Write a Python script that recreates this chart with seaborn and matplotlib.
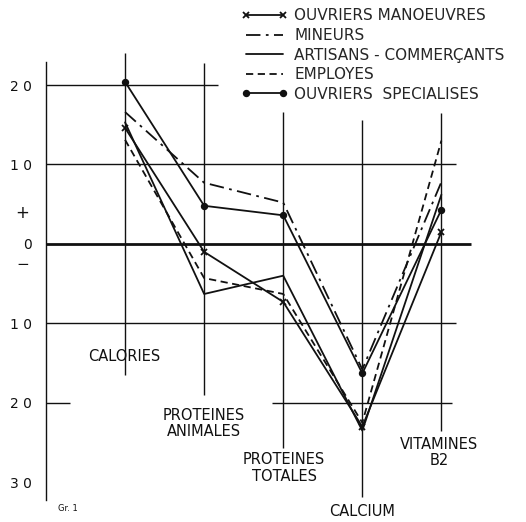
import numpy as np
import pandas as pd
import seaborn as sns
import matplotlib
matplotlib.use('Agg')
import matplotlib.pyplot as plt

sns.set_style('white')
plt.rcParams['font.family'] = ['DejaVu Sans']

# données (écart en %)
categories = ['CALORIES', 'PROTEINES\nANIMALES', 'PROTEINES\nTOTALES', 'CALCIUM', 'VITAMINES\nB2']
manoeuvres = [14.6, -1.0, -7.3, -23.0, 1.5]
mineurs = [16.6, 7.7, 5.2, -15.8, 7.8]
artisans = [15.3, -6.3, -4.0, -23.5, 6.2]
employes = [13.1, -4.3, -6.3, -22.5, 13.0]
specialises = [20.4, 4.8, 3.6, -16.3, 4.3]

y_ticks = [20, 10, 0, -10, -20, -30]
y_labels = ['2 0', '1 0', '0', '1 0', '2 0', '3 0']

ink = '#111111'
pos = np.arange(len(categories))

fig = plt.figure(figsize=(5.26, 5.22), dpi=100)
ax = fig.add_axes([46 / 526, 0, 480 / 526, 1])
ax.set_xlim(-1, 5.07)
ax.set_ylim(-35, 30.7)

# quadrillage partiel, comme sur l'original
ax.hlines(20, -1, 1.18, color=ink, lw=1)
ax.hlines(10, -1, 4.18, color=ink, lw=1)
ax.hlines(0, -1, 4.37, color=ink, lw=2)
ax.hlines(-10, -1, 4.18, color=ink, lw=1)
ax.hlines(-20, -1, -0.7, color=ink, lw=1)
ax.hlines(-20, 1.86, 4.14, color=ink, lw=1)
v_top = [24.0, 22.8, 16.6, 15.6, 16.5]
v_bot = [-16.5, -19.0, -25.7, -31.8, -23.6]
for i in range(len(categories)):
    ax.vlines(pos[i], v_bot[i], v_top[i], color=ink, lw=1)

series = [
    ('OUVRIERS MANOEUVRES', manoeuvres, '-', 'x', 4.5),
    ('MINEURS', mineurs, (0, (8, 3, 1.5, 3)), None, 0),
    ('ARTISANS - COMMERÇANTS', artisans, '-', None, 0),
    ('EMPLOYES', employes, (0, (4, 2.5)), None, 0),
    ('OUVRIERS  SPECIALISES', specialises, '-', 'o', 4),
]
for name, vals, ls, mk, ms in series:
    df = pd.DataFrame({'x': pos, 'y': vals})
    sns.lineplot(data=df, x='x', y='y', ax=ax, color=ink, lw=1.3,
                 linestyle=ls, marker=mk, markersize=ms, mew=1.3,
                 mec=ink, mfc=ink, label=name)

ax.legend(loc='upper left', bbox_to_anchor=(0.39, 1.0), frameon=False,
          fontsize=11, handlelength=3.0, handletextpad=0.45, numpoints=2,
          labelspacing=0.3, borderaxespad=0.15)

# étiquettes des catégories
label_y = [-14.2, -22.6, -28.2, -33.7, -26.3]
label_x = [-0.01, 0.0, 0.01, 0.0, -0.03]
for i, lab in enumerate(categories):
    ax.text(pos[i] + label_x[i], label_y[i], lab, ha='center', va='center',
            fontsize=10.5, color=ink, linespacing=1.1)

ax.set_yticks(y_ticks)
ax.set_yticklabels(y_labels, fontsize=10, color=ink)
ax.tick_params(axis='y', length=0, pad=10)
ax.set_xticks([])
ax.text(-1.3, 3.9, '+', ha='center', va='center', fontsize=12, color=ink)
ax.text(-1.3, -2.6, '−', ha='center', va='center', fontsize=11, color=ink)
ax.text(-0.85, -33.3, 'Gr. 1', fontsize=6, color=ink, va='center')

ax.set_xlabel('')
ax.set_ylabel('')
for s in ['top', 'right', 'bottom']:
    ax.spines[s].set_visible(False)
ax.spines['left'].set_bounds(-32.2, 22.9)
ax.spines['left'].set_color(ink)
ax.spines['left'].set_linewidth(1)
ax.patch.set_alpha(0)

fig.savefig('out.png', dpi=100)
